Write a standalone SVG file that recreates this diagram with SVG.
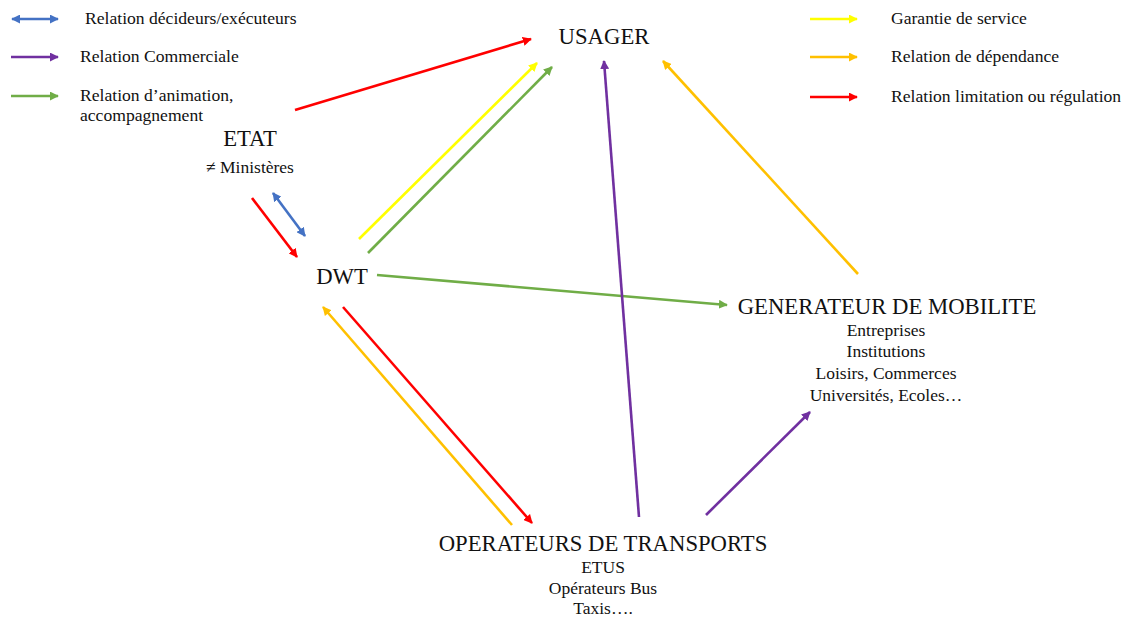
<svg xmlns="http://www.w3.org/2000/svg" width="1127" height="617" viewBox="0 0 1127 617">
  <style>
    text { font-family: "Liberation Serif", "Times New Roman", serif; fill: #111; }
    .title { font-size: 22.7px; text-anchor: middle; }
    .sub { font-size: 17.5px; text-anchor: middle; }
    .leg { font-size: 17.6px; }
    line { stroke-width: 2.6; fill: none; }
    .blue { stroke: #4472C4; }
    .purple { stroke: #7030A0; }
    .green { stroke: #70AD47; }
    .yellow { stroke: #FFFF00; }
    .orange { stroke: #FFC000; }
    .red { stroke: #FF0000; }
  </style>
  <defs>
    <marker id="ah-blue" viewBox="0 0 10 10" refX="9" refY="5" markerWidth="9" markerHeight="9" markerUnits="userSpaceOnUse" orient="auto-start-reverse"><path d="M0,0 L10,5 L0,10 z" fill="#4472C4"/></marker>
    <marker id="ah-purple" viewBox="0 0 10 10" refX="9" refY="5" markerWidth="9" markerHeight="9" markerUnits="userSpaceOnUse" orient="auto"><path d="M0,0 L10,5 L0,10 z" fill="#7030A0"/></marker>
    <marker id="ah-green" viewBox="0 0 10 10" refX="9" refY="5" markerWidth="9" markerHeight="9" markerUnits="userSpaceOnUse" orient="auto"><path d="M0,0 L10,5 L0,10 z" fill="#70AD47"/></marker>
    <marker id="ah-yellow" viewBox="0 0 10 10" refX="9" refY="5" markerWidth="9" markerHeight="9" markerUnits="userSpaceOnUse" orient="auto"><path d="M0,0 L10,5 L0,10 z" fill="#FFFF00"/></marker>
    <marker id="ah-orange" viewBox="0 0 10 10" refX="9" refY="5" markerWidth="9" markerHeight="9" markerUnits="userSpaceOnUse" orient="auto"><path d="M0,0 L10,5 L0,10 z" fill="#FFC000"/></marker>
    <marker id="ah-red" viewBox="0 0 10 10" refX="9" refY="5" markerWidth="9" markerHeight="9" markerUnits="userSpaceOnUse" orient="auto"><path d="M0,0 L10,5 L0,10 z" fill="#FF0000"/></marker>
  </defs>
  <rect width="1127" height="617" fill="#ffffff"/>

  <!-- legend -->
  <g id="legend">
    <line class="blue" x1="12" y1="19" x2="58" y2="19" marker-start="url(#ah-blue)" marker-end="url(#ah-blue)"/>
    <text class="leg" x="85" y="24">Relation décideurs/exécuteurs</text>
    <line class="purple" x1="11" y1="57" x2="58" y2="57" marker-end="url(#ah-purple)"/>
    <text class="leg" x="80" y="62">Relation Commerciale</text>
    <line class="green" x1="11" y1="96" x2="58" y2="96" marker-end="url(#ah-green)"/>
    <text class="leg" x="80" y="101">Relation d’animation,</text>
    <text class="leg" x="80" y="121">accompagnement</text>
    <line class="yellow" x1="810" y1="19" x2="857" y2="19" marker-end="url(#ah-yellow)"/>
    <text class="leg" x="891" y="24">Garantie de service</text>
    <line class="orange" x1="810" y1="57" x2="857" y2="57" marker-end="url(#ah-orange)"/>
    <text class="leg" x="891" y="62">Relation de dépendance</text>
    <line class="red" x1="810" y1="97" x2="857" y2="97" marker-end="url(#ah-red)"/>
    <text class="leg" x="891" y="102">Relation limitation ou régulation</text>
  </g>

  <!-- nodes -->
  <g id="usager">
    <text class="title" x="604" y="44">USAGER</text>
  </g>
  <g id="etat">
    <text class="title" x="250" y="146">ETAT</text>
    <text class="sub" x="250" y="173">≠ Ministères</text>
  </g>
  <g id="dwt">
    <text class="title" x="342" y="284">DWT</text>
  </g>
  <g id="generateur">
    <text class="title" x="887" y="314">GENERATEUR DE MOBILITE</text>
    <text class="sub" x="886" y="336">Entreprises</text>
    <text class="sub" x="886" y="357">Institutions</text>
    <text class="sub" x="886" y="379">Loisirs, Commerces</text>
    <text class="sub" x="886" y="401">Universités, Ecoles…</text>
  </g>
  <g id="operateurs">
    <text class="title" x="603" y="551">OPERATEURS DE TRANSPORTS</text>
    <text class="sub" x="603" y="573">ETUS</text>
    <text class="sub" x="603" y="594">Opérateurs Bus</text>
    <text class="sub" x="603" y="614">Taxis….</text>
  </g>

  <!-- connectors -->
  <g id="connectors">
    <line class="red" x1="295" y1="110" x2="531" y2="39" marker-end="url(#ah-red)"/>
    <line class="yellow" x1="359" y1="239" x2="537" y2="63" marker-end="url(#ah-yellow)"/>
    <line class="green" x1="368" y1="253" x2="552" y2="67" marker-end="url(#ah-green)"/>
    <line class="blue" x1="273" y1="193" x2="305" y2="236" marker-start="url(#ah-blue)" marker-end="url(#ah-blue)"/>
    <line class="red" x1="252" y1="198" x2="297" y2="257" marker-end="url(#ah-red)"/>
    <line class="green" x1="377" y1="275" x2="727" y2="305" marker-end="url(#ah-green)"/>
    <line class="orange" x1="512" y1="525" x2="323" y2="307" marker-end="url(#ah-orange)"/>
    <line class="red" x1="343" y1="307" x2="532" y2="523" marker-end="url(#ah-red)"/>
    <line class="purple" x1="639" y1="517" x2="604" y2="61" marker-end="url(#ah-purple)"/>
    <line class="purple" x1="706" y1="515" x2="810" y2="412" marker-end="url(#ah-purple)"/>
    <line class="orange" x1="858" y1="274" x2="663" y2="61" marker-end="url(#ah-orange)"/>
  </g>
</svg>
